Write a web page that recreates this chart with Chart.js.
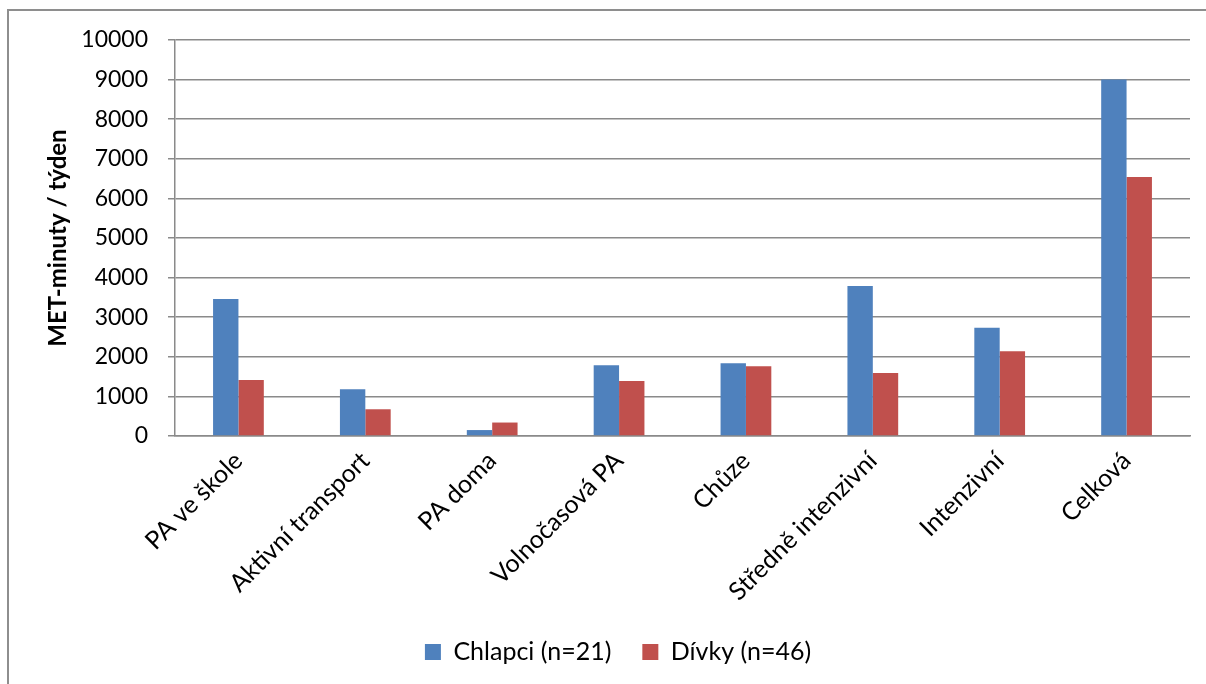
<!DOCTYPE html>
<html>
<head>
<meta charset="utf-8">
<script src="https://cdn.jsdelivr.net/npm/chart.js@4"></script>
<style>
    body { margin: 0; background: #ffffff; }
    #ramecek {
        position: absolute; left: 0; top: 0;
        width: 1206px; height: 684px;
    }
    #okraj {
        position: absolute; left: 7px; top: 9px;
        width: 1210px; height: 700px;
        border-left: 2px solid #8e8e8e;
        border-top: 2px solid #8e8e8e;
        pointer-events: none;
    }
</style>
</head>
<body>
<div id="ramecek"><canvas id="metChart" width="1206" height="684"></canvas></div>
<div id="okraj"></div>
<script>
const kategorie = ['PA ve škole', 'Aktivní transport', 'PA doma', 'Volnočasová PA',
    'Chůze', 'Středně intenzivní', 'Intenzivní', 'Celková'];
const chlapci = [3460, 1180, 150, 1785, 1835, 3790, 2735, 9000];
const divky = [1415, 675, 340, 1390, 1760, 1590, 2140, 6540];
const osaY = { min: 0, max: 10000, krok: 1000 };

const barvy = {
    modra: '#4F81BD',
    cervena: '#C0504D',
    mrizka: '#8a8a8a'
};

const pismo = "Lato, 'Open Sans', sans-serif";

new Chart(document.getElementById('metChart'), {
    type: 'bar',
    data: {
        labels: kategorie,
        datasets: [
            { label: 'Chlapci (n=21)', data: chlapci, backgroundColor: barvy.modra },
            { label: 'Dívky (n=46)', data: divky, backgroundColor: barvy.cervena }
        ]
    },
    options: {
        responsive: false,
        animation: false,
        datasets: { bar: { categoryPercentage: 0.4, barPercentage: 1.0 } },
        // levý okraj posouvá legendu na střed rámečku jako v Excelu
        layout: { padding: { left: 46, right: 16, top: 40, bottom: 9.5 } },
        plugins: {
            legend: {
                position: 'bottom',
                labels: {
                    color: '#000000',
                    font: { family: pismo, size: 25 },
                    boxWidth: 16,
                    boxHeight: 16,
                    padding: 31
                }
            },
            tooltip: { enabled: false }
        },
        scales: {
            x: {
                grid: { drawOnChartArea: false, drawTicks: false },
                border: { color: barvy.mrizka, width: 1.5 },
                ticks: {
                    color: '#000000',
                    font: { family: pismo, size: 25 },
                    minRotation: 45,
                    maxRotation: 45,
                    autoSkip: false,
                    padding: 10
                },
                afterFit: function(scale) { scale.height = 172.5; }
            },
            y: {
                min: osaY.min,
                max: osaY.max,
                grid: { color: barvy.mrizka, lineWidth: 1.5, tickLength: 7 },
                border: { color: barvy.mrizka, width: 1.5 },
                ticks: {
                    stepSize: osaY.krok,
                    color: '#000000',
                    font: { family: pismo, size: 23 },
                    padding: 20,
                    callback: function(hodnota) { return String(hodnota); }
                },
                title: {
                    display: true,
                    text: 'MET-minuty / týden',
                    color: '#000000',
                    font: { family: pismo, size: 24, weight: 'bold', lineHeight: 1.0 },
                    padding: { top: 0, bottom: 0 }
                },
                afterFit: function(scale) { scale.width = 129; }
            }
        }
    }
});
</script>
</body>
</html>
